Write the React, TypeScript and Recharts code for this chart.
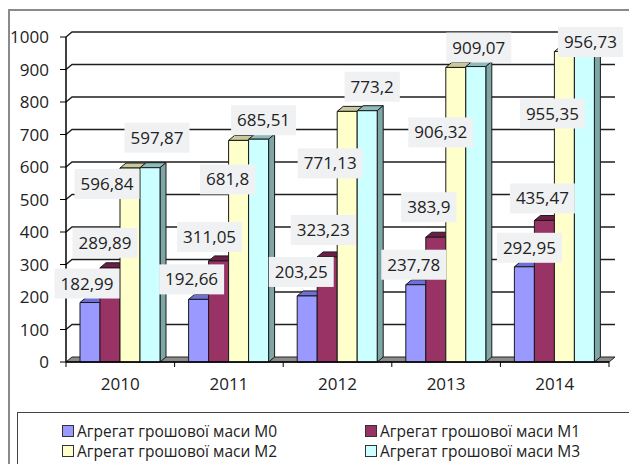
import React from "react";
import { BarChart, Bar, XAxis, YAxis, CartesianGrid, Legend, LabelList } from "recharts";

const years = ["2010", "2011", "2012", "2013", "2014"];
const m0 = [182.99, 192.66, 203.25, 237.78, 292.95];
const m1 = [289.89, 311.05, 323.23, 383.9, 435.47];
const m2 = [596.84, 681.8, 771.13, 906.32, 955.35];
const m3 = [597.87, 685.51, 773.2, 909.07, 956.73];
const seriesNames = [
  "Агрегат грошової маси M0",
  "Агрегат грошової маси M1",
  "Агрегат грошової маси M2",
  "Агрегат грошової маси M3",
];
const yTicks = [0, 100, 200, 300, 400, 500, 600, 700, 800, 900, 1000];

const keys = ["m0", "m1", "m2", "m3"];
const allValues = [m0, m1, m2, m3];
const frontColors = ["#9999ff", "#993366", "#ffffcc", "#ccffff"];
const topColors = ["#6f6fd6", "#6c1f46", "#c9c99c", "#8fbaba"];
const sideColors = ["#6a6ab8", "#74234c", "#b8b890", "#7fa6a6"];

// hand placed label offsets (from the top centre of each bar), like in the original
const labelShift = [
  [[-3, -19], [-7, -20], [-6, -24], [-2, -20], [5, -19]],
  [[-5, -25], [-9, -24], [-4, -27], [-7, -30], [-2, -22]],
  [[-23, 16], [-11, 39], [-17, 52], [-15, 65], [-12, 62]],
  [[7, -30], [5, -19], [5, -24], [3, -19], [6, -9]],
];

const data = years.map((year, i) => ({ year, m0: m0[i], m1: m1[i], m2: m2[i], m3: m3[i] }));

const FONT = '"Open Sans", "Noto Sans", sans-serif';
const DX = 6;
const DY = 5;
const PLOT_LEFT = 66;
const PLOT_RIGHT = 609;
const BAND = (PLOT_RIGHT - PLOT_LEFT) / years.length;

const fmt = (v: number) => String(v).replace(".", ",");

function Box3D(props: any) {
  const { x, y, width: w, height: h, front, top, side } = props;
  if (w == null || h == null) return null;
  return (
    <g stroke="#1a1a1a" strokeWidth={1} strokeLinejoin="round">
      <polygon points={`${x},${y} ${x + DX},${y - DY} ${x + w + DX},${y - DY} ${x + w},${y}`} fill={top} />
      <polygon points={`${x + w},${y} ${x + w + DX},${y - DY} ${x + w + DX},${y + h - DY} ${x + w},${y + h}`} fill={side} />
      <rect x={x} y={y} width={w} height={h} fill={front} />
    </g>
  );
}

function GridLine(props: any) {
  const { x1, y1, x2, y, height } = props;
  const isFloor = Math.abs(y1 - (y + height)) < 1;
  if (isFloor) {
    return (
      <polygon
        points={`${x1},${y1} ${x2},${y1} ${x2 + DX},${y1 - DY} ${x1 + DX},${y1 - DY}`}
        fill="#8c8c8c"
        stroke="#222"
        strokeWidth={1}
      />
    );
  }
  return (
    <path
      d={`M${x1},${y1} L${x1 + DX},${y1 - DY} L${x2 + DX},${y1 - DY}`}
      fill="none"
      stroke="#1e1e1e"
      strokeWidth={1.4}
    />
  );
}

function XTick(props: any) {
  const { x, y, payload, index } = props;
  const half = BAND / 2;
  return (
    <g>
      <line x1={x - half} y1={y} x2={x - half} y2={y + 5} stroke="#000" />
      {index === years.length - 1 && <line x1={x + half} y1={y} x2={x + half} y2={y + 5} stroke="#000" />}
      <text x={x} y={y + 28} textAnchor="middle" fontSize={17} fontFamily={FONT} fill="#222">
        {payload.value}
      </text>
    </g>
  );
}

// all data labels are drawn from the last series so that they sit above every bar
function AllLabels(props: any) {
  const { x, y, width, height, index } = props;
  if (x == null || !height) return null;
  const bottom = y + height;
  const k = height / m3[index];
  return (
    <g>
      {allValues.map((vals, s) => {
        const cx = x + width / 2 - (3 - s) * width + labelShift[s][index][0];
        const cy = bottom - vals[index] * k + labelShift[s][index][1];
        const txt = fmt(vals[index]);
        const digits = txt.replace(",", "").length;
        const tw = digits * 9.7 + (txt.includes(",") ? 4.5 : 0);
        const bw = tw + 12;
        return (
          <g key={s}>
            <rect x={cx - bw / 2} y={cy - 15} width={bw} height={30} fill="#f0f1f3" />
            <text x={cx} y={cy + 6} textAnchor="middle" fontSize={17} fontFamily={FONT} fill="#222">
              {txt}
            </text>
          </g>
        );
      })}
    </g>
  );
}

function LegendBox() {
  return (
    <div
      style={{
        height: 56,
        boxSizing: "border-box",
        border: "1px solid #444",
        background: "#fff",
        paddingLeft: 44,
        paddingTop: 8,
        display: "grid",
        gridTemplateColumns: "303px 303px",
        gridAutoRows: "20px",
        fontFamily: FONT,
        fontSize: 15.5,
        color: "#222",
      }}
    >
      {seriesNames.map((name, i) => (
        <div key={name} style={{ display: "flex", alignItems: "center", whiteSpace: "nowrap" }}>
          <span
            style={{
              display: "inline-block",
              width: 10,
              height: 10,
              border: "1px solid #333",
              background: frontColors[i],
              marginRight: 3,
            }}
          />
          {name}
        </div>
      ))}
    </div>
  );
}

export default function App() {
  return (
    <div style={{ position: "absolute", left: 0, top: 0, width: 629, height: 464, overflow: "hidden", background: "#fff" }}>
      <div
        style={{
          position: "absolute",
          left: 8,
          top: 9,
          width: 700,
          height: 500,
          border: "2px solid #8a8a8a",
        }}
      />
      <div style={{ position: "absolute", left: 0, top: 0 }}>
        <BarChart
          width={629}
          height={464}
          data={data}
          margin={{ top: 37, right: 629 - PLOT_RIGHT, bottom: 16, left: 0 }}
          barGap={0}
          barSize={20}
        >
          <CartesianGrid vertical={false} horizontal={(p: any) => <GridLine {...p} />} />
          <XAxis
            dataKey="year"
            height={30}
            tickLine={false}
            tickSize={0}
            tickMargin={0}
            axisLine={{ stroke: "#000", strokeWidth: 1.5 }}
            tick={<XTick />}
            interval={0}
          />
          <YAxis
            width={PLOT_LEFT}
            domain={[0, 1000]}
            ticks={yTicks}
            interval={0}
            axisLine={{ stroke: "#000", strokeWidth: 1.5 }}
            tickLine={{ stroke: "#000" }}
            tickSize={6}
            tickMargin={11}
            tick={{ fontSize: 17, fontFamily: FONT, fill: "#222" }}
          />
          {keys.map((k, s) => (
            <Bar
              key={k}
              dataKey={k}
              name={seriesNames[s]}
              fill={frontColors[s]}
              isAnimationActive={false}
              shape={(p: any) => <Box3D {...p} front={frontColors[s]} top={topColors[s]} side={sideColors[s]} />}
            >
              {s === 3 && <LabelList dataKey="m3" content={<AllLabels />} />}
            </Bar>
          ))}
          <Legend content={() => <LegendBox />} wrapperStyle={{ left: 17, top: 412, width: 640 }} />
        </BarChart>
      </div>
    </div>
  );
}
